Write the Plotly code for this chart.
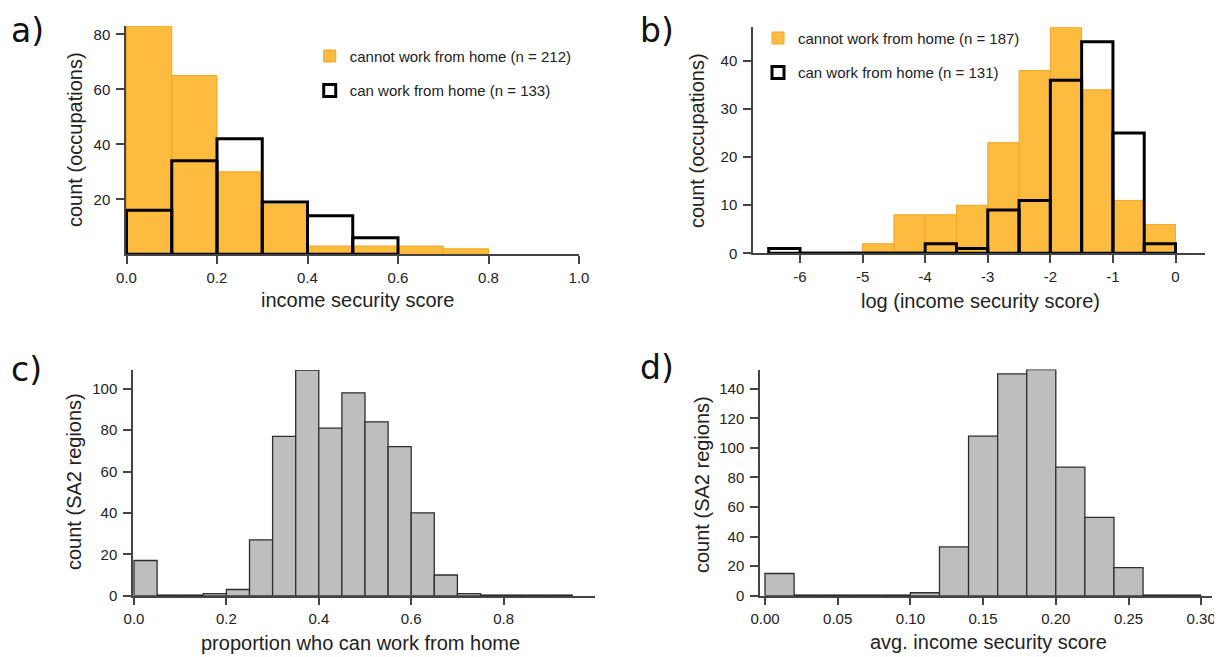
import plotly.graph_objects as go

# target picture size; the page body adds an 8px margin, so the figure itself
# is 8px smaller and all positions are given in screen pixels minus that offset
SCREEN_W, SCREEN_H = 1222, 657
OFF = 8
W, H = SCREEN_W - OFF, SCREEN_H - OFF

# ---------------- data ----------------
# panel a: income security score (histogram, bin width 0.1 starting at 0)
a_bin_start = 0.0
a_bin_width = 0.1
a_cannot_counts = [83, 65, 30, 18, 3, 3, 3, 2]
a_can_counts = [16, 34, 42, 19, 14, 6]
a_cannot_name = "cannot work from home (n = 212)"
a_can_name = "can work from home (n = 133)"
a_xticks = [0.0, 0.2, 0.4, 0.6, 0.8, 1.0]
a_yticks = [20, 40, 60, 80]

# panel b: log(income security score) (bin width 0.5 starting at -6.5)
b_bin_start = -6.5
b_bin_width = 0.5
b_cannot_counts = [0, 0, 0, 2, 8, 8, 10, 23, 38, 47, 34, 11, 6]
b_can_counts = [1, 0, 0, 0, 0, 2, 1, 9, 11, 36, 44, 25, 2]
b_cannot_name = "cannot work from home (n = 187)"
b_can_name = "can work from home (n = 131)"
b_xticks = [-6, -5, -4, -3, -2, -1, 0]
b_yticks = [0, 10, 20, 30, 40]

# panel c: proportion who can work from home (bin width 0.05)
c_bin_start = 0.0
c_bin_width = 0.05
c_counts = [17, 0, 0, 1, 3, 27, 77, 109, 81, 98, 84, 72, 40, 10, 1, 0, 0, 0, 0]
c_xticks = [0.0, 0.2, 0.4, 0.6, 0.8]
c_yticks = [0, 20, 40, 60, 80, 100]

# panel d: avg. income security score (bin width 0.02)
d_bin_start = 0.0
d_bin_width = 0.02
d_counts = [15, 0, 0, 0, 0, 2, 33, 108, 150, 153, 87, 53, 19, 0, 0]
d_xticks = [0.00, 0.05, 0.10, 0.15, 0.20, 0.25, 0.30]
d_yticks = [0, 20, 40, 60, 80, 100, 120, 140]

# ---------------- styles ----------------
ORANGE = "#FDBB3F"
ORANGE_EDGE = "#F5A623"
GRAY = "#BEBEBE"
GRAY_EDGE = "#2E2E2E"
AXIS = "#444444"
TXT = "#222222"
FONT = "Liberation Sans, Arial, sans-serif"


def centers(start, width, counts):
    return [start + width * (i + 0.5) for i in range(len(counts))]


def zero_segments(start, width, counts):
    xs, ys = [], []
    for i, c in enumerate(counts):
        if c == 0:
            xs += [start + width * i, start + width * (i + 1), None]
            ys += [0, 0, None]
    return xs, ys


def px_x(p):
    return (p - OFF) / W


def px_y(p):
    return 1 - (p - OFF) / H


fig = go.Figure()

# panel a
fig.add_trace(go.Bar(
    x=centers(a_bin_start, a_bin_width, a_cannot_counts), y=a_cannot_counts,
    width=a_bin_width, name=a_cannot_name, legendgroup="a1", legend="legend",
    marker=dict(color=ORANGE, line=dict(color=ORANGE_EDGE, width=1)),
    xaxis="x", yaxis="y"))
fig.add_trace(go.Bar(
    x=centers(a_bin_start, a_bin_width, a_can_counts), y=a_can_counts,
    width=a_bin_width, name=a_can_name, legendgroup="a2", legend="legend",
    marker=dict(color="rgba(0,0,0,0)", line=dict(color="black", width=3)),
    xaxis="x", yaxis="y"))

# panel b
fig.add_trace(go.Bar(
    x=centers(b_bin_start, b_bin_width, b_cannot_counts), y=b_cannot_counts,
    width=b_bin_width, name=b_cannot_name, legendgroup="b1", legend="legend2",
    marker=dict(color=ORANGE, line=dict(color=ORANGE_EDGE, width=1)),
    xaxis="x2", yaxis="y2"))
fig.add_trace(go.Bar(
    x=centers(b_bin_start, b_bin_width, b_can_counts), y=b_can_counts,
    width=b_bin_width, name=b_can_name, legendgroup="b2", legend="legend2",
    marker=dict(color="rgba(0,0,0,0)", line=dict(color="black", width=3)),
    xaxis="x2", yaxis="y2"))
zx, zy = zero_segments(b_bin_start, b_bin_width, b_can_counts)
fig.add_trace(go.Scatter(x=zx, y=zy, mode="lines", line=dict(color="black", width=3),
                         showlegend=False, hoverinfo="skip", xaxis="x2", yaxis="y2"))

# panel c
fig.add_trace(go.Bar(
    x=centers(c_bin_start, c_bin_width, c_counts), y=c_counts, width=c_bin_width,
    marker=dict(color=GRAY, line=dict(color=GRAY_EDGE, width=1.3)),
    showlegend=False, xaxis="x3", yaxis="y3"))
zx, zy = zero_segments(c_bin_start, c_bin_width, c_counts)
fig.add_trace(go.Scatter(x=zx, y=zy, mode="lines", line=dict(color="#111", width=2.5),
                         showlegend=False, hoverinfo="skip", xaxis="x3", yaxis="y3"))

# panel d
fig.add_trace(go.Bar(
    x=centers(d_bin_start, d_bin_width, d_counts), y=d_counts, width=d_bin_width,
    marker=dict(color=GRAY, line=dict(color=GRAY_EDGE, width=1.3)),
    showlegend=False, xaxis="x4", yaxis="y4"))
zx, zy = zero_segments(d_bin_start, d_bin_width, d_counts)
fig.add_trace(go.Scatter(x=zx, y=zy, mode="lines", line=dict(color="#111", width=2.5),
                         showlegend=False, hoverinfo="skip", xaxis="x4", yaxis="y4"))


def axis_style(**kw):
    d = dict(showline=True, linecolor=AXIS, linewidth=1.5, ticks="outside",
             ticklen=8, tickwidth=1.5, tickcolor=AXIS, showgrid=False,
             zeroline=False, automargin=False,
             tickfont=dict(family=FONT, size=15, color=TXT))
    d.update(kw)
    return d


def fmt(vals, f):
    return [format(v, f) for v in vals]


XSTAND = 1
YSTAND = 3

layout_axes = dict(
    xaxis=axis_style(domain=[px_x(126), px_x(579)], range=[-0.0011, 1.0],
                     anchor="y", tickvals=a_xticks, ticktext=fmt(a_xticks, ".1f"),
                     ticklabelstandoff=XSTAND),
    yaxis=axis_style(domain=[px_y(254.3), px_y(26)], range=[0, 83],
                     anchor="x", tickvals=a_yticks, ticktext=fmt(a_yticks, "d"),
                     ticklabelstandoff=YSTAND),
    xaxis2=axis_style(domain=[px_x(753), px_x(1205)], range=[-6.751, 0.471],
                      anchor="y2", tickvals=b_xticks, ticktext=fmt(b_xticks, "d"),
                      ticklabelstandoff=XSTAND),
    yaxis2=axis_style(domain=[px_y(253.3), px_y(27.35)], range=[0, 47],
                      anchor="x2", tickvals=b_yticks, ticktext=fmt(b_yticks, "d"),
                      ticklabelstandoff=YSTAND),
    xaxis3=axis_style(domain=[px_x(133), px_x(595)], range=[-0.00216, 0.99784],
                      anchor="y3", tickvals=c_xticks, ticktext=fmt(c_xticks, ".1f"),
                      ticklabelstandoff=XSTAND),
    yaxis3=axis_style(domain=[px_y(595.7), px_y(370.1)], range=[0, 109],
                      anchor="x3", tickvals=c_yticks, ticktext=fmt(c_yticks, "d"),
                      ticklabelstandoff=YSTAND),
    xaxis4=axis_style(domain=[px_x(760), px_x(1212)], range=[-0.00344, 0.30743],
                      anchor="y4", tickvals=d_xticks, ticktext=fmt(d_xticks, ".2f"),
                      ticklabelstandoff=XSTAND),
    yaxis4=axis_style(domain=[px_y(595.7), px_y(369.5)], range=[0, 153],
                      anchor="x4", tickvals=d_yticks, ticktext=fmt(d_yticks, "d"),
                      ticklabelstandoff=YSTAND),
)

annotations = []


def add_text(text, x, y, size, angle=0, family=FONT, xanchor="center", color=TXT):
    annotations.append(dict(text=text, x=px_x(x), y=px_y(y), xref="paper", yref="paper",
                            showarrow=False, textangle=angle, xanchor=xanchor,
                            yanchor="middle", borderpad=0,
                            font=dict(family=family, size=size, color=color)))


PANEL_FONT = "DejaVu Sans, sans-serif"
add_text("a)", 10, 31, 33, family=PANEL_FONT, xanchor="left", color="#111")
add_text("b)", 639, 31, 33, family=PANEL_FONT, xanchor="left", color="#111")
add_text("c)", 10, 369, 33, family=PANEL_FONT, xanchor="left", color="#111")
add_text("d)", 639, 368, 33, family=PANEL_FONT, xanchor="left", color="#111")

add_text("income security score", 357, 300, 20)
add_text("count (occupations)", 75, 140, 20, angle=-90)
add_text("log (income security score)", 980, 301, 20)
add_text("count (occupations)", 697, 141, 20, angle=-90)
add_text("proportion who can work from home", 360, 643, 20)
add_text("count (SA2 regions)", 74, 482, 20, angle=-90)
add_text("avg. income security score", 988, 642, 20)
add_text("count (SA2 regions)", 702, 485, 20, angle=-90)

legend_common = dict(xanchor="left", yanchor="top", bgcolor="rgba(0,0,0,0)",
                     borderwidth=0, tracegroupgap=12,
                     font=dict(family=FONT, size=15, color=TXT))

fig.update_layout(
    width=W, height=H,
    margin=dict(l=0, r=0, t=0, b=0, autoexpand=False),
    paper_bgcolor="white", plot_bgcolor="white",
    barmode="overlay",
    showlegend=True,
    legend=dict(x=px_x(309.7), y=px_y(39.75), **legend_common),
    legend2=dict(x=px_x(758), y=px_y(21.75), **legend_common),
    annotations=annotations,
    **layout_axes,
)

fig.write_html("out.html")
